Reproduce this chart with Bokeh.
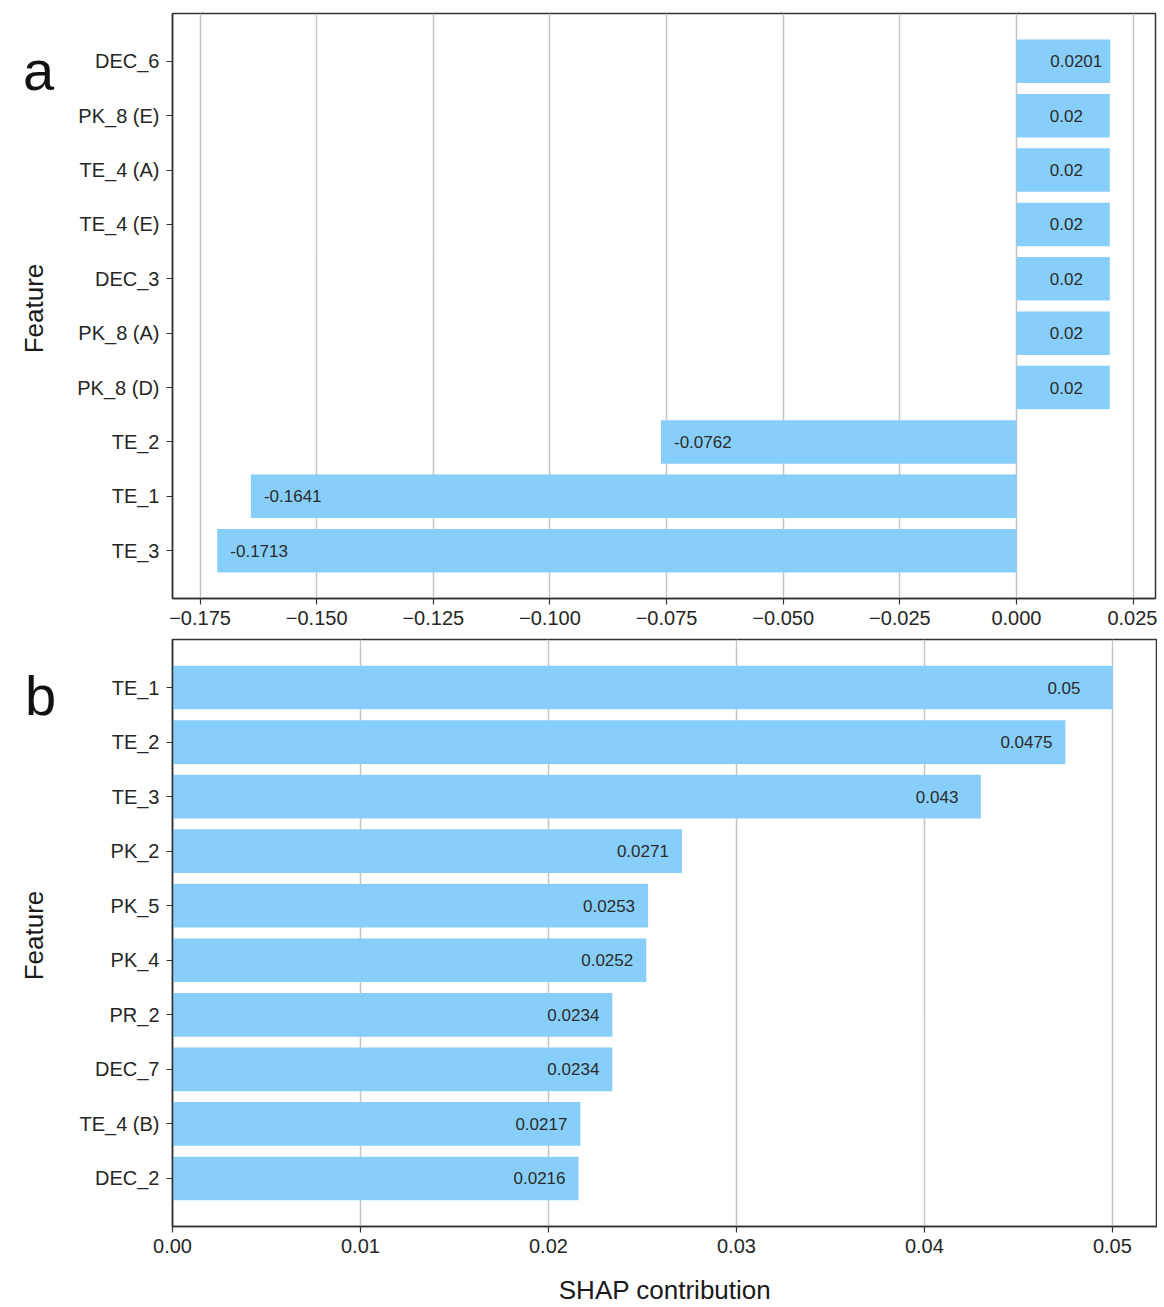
import math
from bokeh.plotting import figure
from bokeh.models import Range1d, FactorRange, FixedTicker, CustomJSTickFormatter, ColumnDataSource
from bokeh.layouts import column, row
from bokeh.embed import file_html
from bokeh.resources import INLINE
from bokeh.core.properties import value

# ---------------- data ----------------
features_a = ["DEC_6", "PK_8 (E)", "TE_4 (A)", "TE_4 (E)", "DEC_3",
              "PK_8 (A)", "PK_8 (D)", "TE_2", "TE_1", "TE_3"]
values_a = [0.0201, 0.02, 0.02, 0.02, 0.02, 0.02, 0.02, -0.0762, -0.1641, -0.1713]

features_b = ["TE_1", "TE_2", "TE_3", "PK_2", "PK_5",
              "PK_4", "PR_2", "DEC_7", "TE_4 (B)", "DEC_2"]
values_b = [0.05, 0.0475, 0.043, 0.0271, 0.0253, 0.0252, 0.0234, 0.0234, 0.0217, 0.0216]

ticks_a = [-0.175, -0.150, -0.125, -0.100, -0.075, -0.050, -0.025, 0.000, 0.025]
ticks_b = [0.00, 0.01, 0.02, 0.03, 0.04, 0.05]

panel_letters = ["a", "b"]
x_label = "SHAP contribution"
y_label = "Feature"

# ---------------- style ----------------
FONT = "Liberation Sans"
BAR = "#87CEFA"
FRAME = "#333333"
GRID = "#c4c4c4"
TXT = "#262626"
SIDE_W = 62
TOTAL_H = 1307


def style(p):
    p.outline_line_color = FRAME
    p.outline_line_width = 1.5
    p.ygrid.grid_line_color = None
    p.xgrid.grid_line_color = GRID
    p.xgrid.grid_line_width = 1.5
    for ax in (p.xaxis[0], p.yaxis[0]):
        ax.axis_line_color = FRAME
        ax.axis_line_width = 1.5
        ax.major_tick_line_color = FRAME
        ax.major_tick_line_width = 1.2
        ax.major_tick_out = 6
        ax.major_tick_in = 0
        ax.minor_tick_line_color = None
        ax.major_label_text_font = FONT
        ax.major_label_text_font_size = "20px"
        ax.major_label_text_color = TXT
        ax.axis_label_text_font = FONT
        ax.axis_label_text_font_style = "normal"
        ax.axis_label_text_font_size = "26px"
        ax.axis_label_text_color = "#1a1a1a"
    p.xaxis[0].major_label_standoff = 6
    p.yaxis[0].major_label_standoff = 7
    p.y_range.range_padding = 0.38
    p.y_range.range_padding_units = "absolute"


# ---------------- panel a ----------------
pa = figure(y_range=FactorRange(factors=features_a[::-1]),
            x_range=Range1d(-0.1809, 0.0298),
            frame_width=983, frame_height=585,
            min_border_left=172 - SIDE_W, min_border_right=2, min_border_top=13, min_border_bottom=33,
            output_backend="svg", toolbar_location=None)
src_a = ColumnDataSource(dict(
    y=features_a, v=values_a,
    lab=[f"{v:g}" for v in values_a],
    off=[-60 if v > 0 else 13 for v in values_a]))
pa.hbar(y="y", left=0, right="v", height=0.8, source=src_a, fill_color=BAR, line_color=None)
pa.text(x="v", y="y", text="lab", x_offset="off", source=src_a,
        text_font=value(FONT), text_font_size="17px", text_color="#2b2b2b",
        text_align="left", text_baseline="middle")
pa.xaxis[0].ticker = FixedTicker(ticks=ticks_a)
pa.xaxis[0].formatter = CustomJSTickFormatter(
    code="var s = tick.toFixed(3); if (Math.abs(tick) < 1e-9) s = '0.000'; return s.replace('-', '\u2212');")
style(pa)

# ---------------- panel b ----------------
pb = figure(y_range=FactorRange(factors=features_b[::-1]),
            x_range=Range1d(0.0, 0.0524),
            frame_width=985, frame_height=587,
            min_border_left=170 - SIDE_W, min_border_right=2, min_border_top=8, min_border_bottom=81,
            output_backend="svg", toolbar_location=None)
src_b = ColumnDataSource(dict(
    y=features_b, v=values_b,
    lab=[f"{v:g}" for v in values_b]))
pb.hbar(y="y", left=0, right="v", height=0.8, source=src_b, fill_color=BAR, line_color=None)
pb.text(x="v", y="y", text="lab", x_offset=-65, source=src_b,
        text_font=value(FONT), text_font_size="17px", text_color="#2b2b2b",
        text_align="left", text_baseline="middle")
pb.xaxis[0].ticker = FixedTicker(ticks=ticks_b)
pb.xaxis[0].formatter = CustomJSTickFormatter(code="return tick.toFixed(2);")
style(pb)
pb.xaxis[0].axis_label = x_label
pb.xaxis[0].axis_label_standoff = 19

# ---------------- side strip: panel letters and y-axis titles ----------------
side = figure(width=SIDE_W, height=TOTAL_H, x_range=Range1d(0, SIDE_W), y_range=Range1d(TOTAL_H, 0),
              min_border=0, x_axis_type=None, y_axis_type=None,
              output_backend="svg", toolbar_location=None)
side.outline_line_color = None
side.grid.visible = False
side.text(x=[38, 40], y=[70, 695], text=panel_letters,
          text_font=value(FONT), text_font_size="56px", text_color="#111111",
          text_align="center", text_baseline="alphabetic")
side.text(x=[33, 33], y=[308, 935], text=[y_label, y_label], angle=math.pi / 2,
          text_font=value(FONT), text_font_size="26px", text_color="#1a1a1a",
          text_align="center", text_baseline="middle")

layout = row(side, column(pa, pb, spacing=0), spacing=0)
open("out.html", "w").write(file_html(layout, INLINE))
